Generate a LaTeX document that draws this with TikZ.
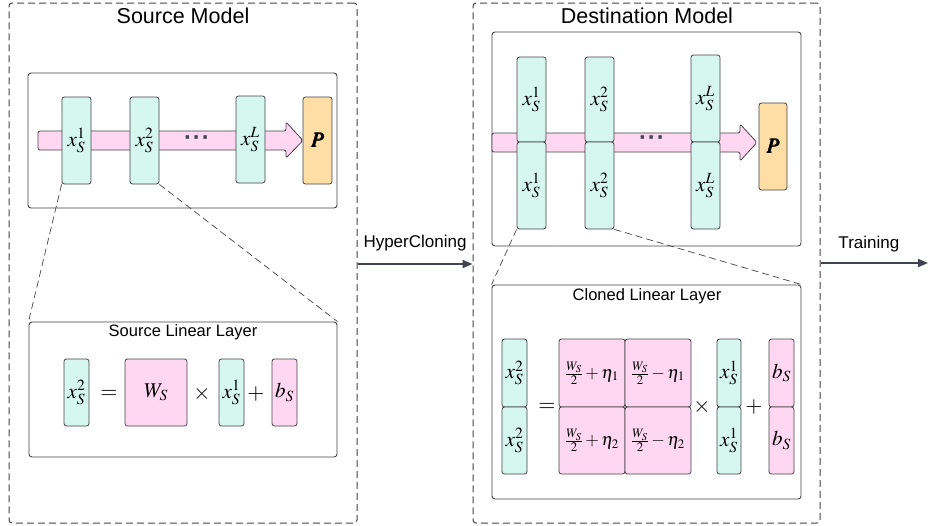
\documentclass[tikz,border=0pt]{standalone}
\usepackage{mathptmx}
\usepackage{bm}
\usepackage{fontspec}
\setmainfont{Liberation Sans}
\usetikzlibrary{arrows.meta}
\definecolor{mint}{HTML}{D6F7F0}
\definecolor{pinkf}{HTML}{FFD7F3}
\definecolor{orangef}{HTML}{FFDEA6}
\definecolor{bord}{HTML}{444444}
\definecolor{arr}{HTML}{3E4450}
\tikzset{
  outerbox/.style={draw=bord, dash pattern=on 7pt off 4pt, rounded corners=3pt, line width=1pt, inner sep=0},
  innerbox/.style={draw=bord, rounded corners=3pt, line width=0.9pt, inner sep=0, fill=white},
  blk/.style={draw=bord, rounded corners=2.5pt, line width=0.8pt, inner sep=0, font=\fontsize{21}{22}\selectfont},
  mintblk/.style={blk, fill=mint},
  pinkblk/.style={blk, fill=pinkf},
  orblk/.style={blk, fill=orangef},
  title/.style={font=\fontsize{21.5}{23}\selectfont, inner sep=0},
  subtitle/.style={font=\fontsize{16.5}{18}\selectfont, inner sep=0},
  op/.style={font=\fontsize{22}{22}\selectfont, inner sep=0},
  zoomline/.style={draw=bord, dash pattern=on 7pt off 4pt, line width=0.7pt},
  flow/.style={draw=bord, fill=pinkf, line width=0.8pt, line join=round},
  mainarr/.style={draw=arr, line width=1.8pt, -{Triangle[length=10pt,width=8pt]}},
  dotsn/.style={font=\fontsize{24}{24}\selectfont\bfseries, text=arr, inner sep=0},
  cell/.style={font=\fontsize{17.5}{19}\selectfont},
  lbl/.style={font=\fontsize{17}{19}\selectfont, inner sep=0}
}
\begin{document}
\begin{tikzpicture}[x=1pt,y=-1pt]
\useasboundingbox (0,0) rectangle (928,525);
% outer boxes
\node[outerbox, minimum width=348pt, minimum height=520pt] (src) at (183,263) {};
\node[outerbox, minimum width=347pt, minimum height=520pt] (dst) at (646.5,263) {};
\node[title] (srct) at (183,16) {Source Model};
\node[title] (dstt) at (647,16) {Destination Model};

% ---------- source model ----------
\node[innerbox, minimum width=309pt, minimum height=135pt] (sin) at (182.5,140.5) {};
\draw[flow, rounded corners=2pt] (38,131) -- (286,131) -- (286,122) -- (303,140.5) -- (286,158) -- (286,150) -- (38,150) -- cycle;
\node[mintblk, minimum width=29pt, minimum height=87pt] (s1) at (76.5,140.5) {$x_S^1$};
\node[mintblk, minimum width=29pt, minimum height=87pt] (s2) at (144.5,140.5) {$x_S^2$};
\node[mintblk, minimum width=29pt, minimum height=87pt] (sL) at (250.5,139.5) {$x_S^L$};
\node[orblk, minimum width=29pt, minimum height=87pt] (sP) at (317.5,140.5) {$\bm{P}$};
\node[dotsn] (sdots) at (197,141) {·\hspace{1pt}·\hspace{1pt}·};

% source linear layer
\node[innerbox, minimum width=308pt, minimum height=135pt] (slin) at (183,389.5) {};
\node[subtitle] (slint) at (183,332) {Source Linear Layer};
\node[mintblk, minimum width=25pt, minimum height=67pt] (lx2) at (76.5,392.5) {$x_S^2$};
\node[op] (leq) at (109,394) {$=$};
\node[pinkblk, minimum width=62pt, minimum height=67pt] (lW) at (156,392.5) {$W_S$};
\node[op] (ltimes) at (202,394) {$\times$};
\node[mintblk, minimum width=25pt, minimum height=67pt] (lx1) at (231.5,392.5) {$x_S^1$};
\node[op] (lplus) at (256,394) {$+$};
\node[pinkblk, minimum width=25pt, minimum height=67pt] (lb) at (284.5,392.5) {$b_S$};
\draw[zoomline] (s1.south west) -- (slin.north west);
\draw[zoomline] (s2.south east) -- (slin.north east);

% ---------- destination model ----------
\node[innerbox, minimum width=309pt, minimum height=214pt] (din) at (646.5,139) {};
\draw[flow, rounded corners=2pt] (492,133) -- (740,133) -- (740,124) -- (757,142.5) -- (740,161) -- (740,152) -- (492,152) -- cycle;
\node[mintblk, minimum width=29pt, minimum height=85pt] (d1a) at (531.5,99.5) {$x_S^1$};
\node[mintblk, minimum width=29pt, minimum height=87pt] (d1b) at (531.5,185.5) {$x_S^1$};
\node[mintblk, minimum width=29pt, minimum height=85pt] (d2a) at (599.5,99.5) {$x_S^2$};
\node[mintblk, minimum width=29pt, minimum height=87pt] (d2b) at (599.5,185.5) {$x_S^2$};
\node[mintblk, minimum width=29pt, minimum height=87pt] (dLa) at (705.5,98.5) {$x_S^L$};
\node[mintblk, minimum width=29pt, minimum height=87pt] (dLb) at (705.5,185.5) {$x_S^L$};
\node[orblk, minimum width=28pt, minimum height=87pt] (dP) at (773,146.5) {$\bm{P}$};
\node[dotsn] (ddots) at (652,141) {·\hspace{1pt}·\hspace{1pt}·};

% cloned linear layer
\node[innerbox, minimum width=309pt, minimum height=214pt] (clin) at (646.5,392) {};
\node[subtitle] (clint) at (647,296) {Cloned Linear Layer};
\node[mintblk, minimum width=25pt, minimum height=68pt] (cx2a) at (514.5,373) {$x_S^2$};
\node[mintblk, minimum width=25pt, minimum height=67pt] (cx2b) at (514.5,440.5) {$x_S^2$};
\node[op] (ceq) at (547,407) {$=$};
\node[pinkblk, minimum width=66pt, minimum height=68pt, cell] (m11) at (592,373) {$\frac{W_S}{2}+\eta_1$};
\node[pinkblk, minimum width=66pt, minimum height=68pt, cell] (m12) at (658,373) {$\frac{W_S}{2}-\eta_1$};
\node[pinkblk, minimum width=66pt, minimum height=67pt, cell] (m21) at (592,440.5) {$\frac{W_S}{2}+\eta_2$};
\node[pinkblk, minimum width=66pt, minimum height=67pt, cell] (m22) at (658,440.5) {$\frac{W_S}{2}-\eta_2$};
\node[op] (ctimes) at (702,407) {$\times$};
\node[mintblk, minimum width=24pt, minimum height=68pt] (cx1a) at (729,373) {$x_S^1$};
\node[mintblk, minimum width=24pt, minimum height=67pt] (cx1b) at (729,440.5) {$x_S^1$};
\node[op] (cplus) at (754,407) {$+$};
\node[pinkblk, minimum width=25pt, minimum height=68pt] (cba) at (781.5,373) {$b_S$};
\node[pinkblk, minimum width=25pt, minimum height=67pt] (cbb) at (781.5,440.5) {$b_S$};
\draw[zoomline] (d1b.south west) -- (clin.north west);
\draw[zoomline] (d2b.south east) -- (clin.north east);

% ---------- main arrows ----------
\draw[mainarr] (src.east |- 0,264) -- (dst.west |- 0,264) node[midway, above=12pt, lbl] (hcl) {HyperCloning};
\coordinate (tend) at (928,263);
\draw[mainarr] (dst.east |- tend) -- (tend) node[pos=0.45, above=10pt, lbl] (trl) {Training};
\end{tikzpicture}
\end{document}
